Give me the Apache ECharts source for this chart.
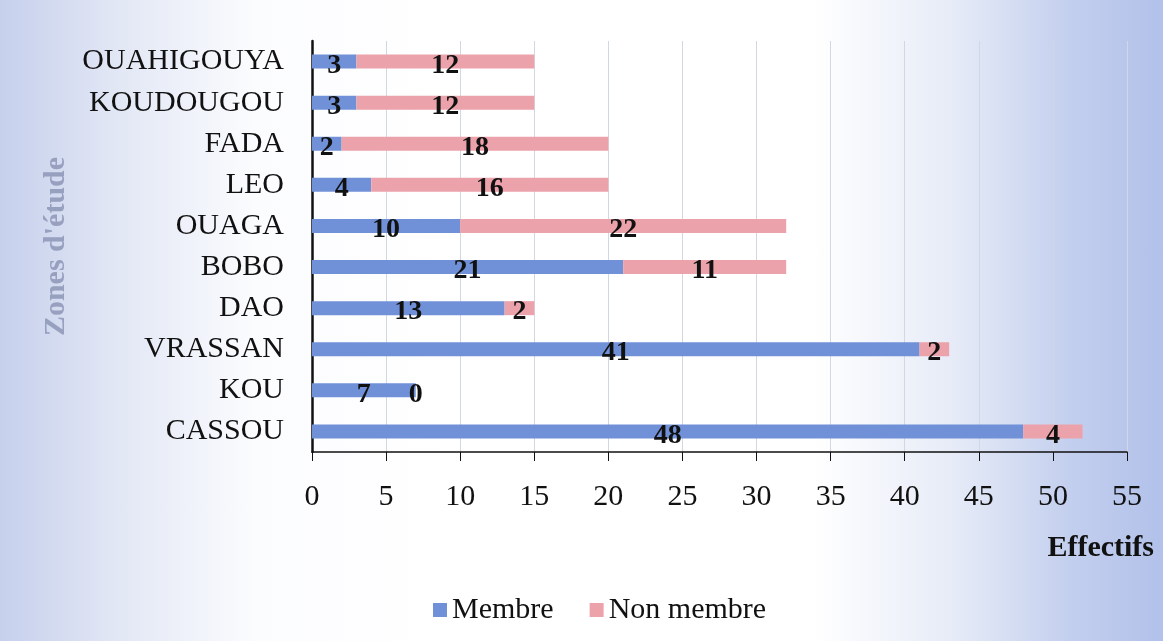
<!DOCTYPE html>
<html><head><meta charset="utf-8">
<script src="https://cdn.jsdelivr.net/npm/echarts@6/dist/echarts.min.js"></script>
<style>
html,body{margin:0;padding:0;}
#c{width:1163px;height:641px;background:linear-gradient(90deg,#c6d0ec 0%,#e2e7f5 10%,#fbfcfe 22%,#ffffff 40%,#ffffff 70%,#e6ebf7 82%,#c3cfee 92%,#b2c1ea 100%);}
</style></head><body>
<div id="c"></div>
<script>
var categories = ['CASSOU','KOU','VRASSAN','DAO','BOBO','OUAGA','LEO','FADA','KOUDOUGOU','OUAHIGOUYA'];
var membre = [48,7,41,13,21,10,4,2,3,3];
var nonMembre = [4,0,2,2,11,22,16,18,12,12];
var xTicks = [0,5,10,15,20,25,30,35,40,45,50,55];

var chart = echarts.init(document.getElementById('c'));
var lbl = {show:true,position:'inside',offset:[0,4],color:'#111',fontFamily:'Liberation Serif',fontWeight:'bold',fontSize:28};
chart.setOption({
  animation:false,
  grid:{left:312,right:36,top:41,bottom:189},
  legend:{left:428,top:590,itemWidth:14,itemHeight:14,itemGap:36,icon:'rect',
    textStyle:{fontFamily:'Liberation Serif',fontSize:30,color:'#111'},
    data:['Membre','Non membre']},
  xAxis:{type:'value',min:xTicks[0],max:xTicks[xTicks.length-1],interval:5,
    name:'Effectifs',nameLocation:'end',nameGap:0,
    nameTextStyle:{fontFamily:'Liberation Serif',fontWeight:'bold',fontSize:30,color:'#111',align:'right',verticalAlign:'top',padding:[81,-27,0,0]},
    axisLine:{show:true,lineStyle:{color:'#111',width:1.5}},
    axisTick:{show:true,length:9,lineStyle:{color:'#111'}},
    axisLabel:{fontFamily:'Liberation Serif',fontSize:30,color:'#111',margin:30},
    splitLine:{show:true,lineStyle:{color:'#d3d7e2'}}},
  yAxis:{type:'category',data:categories,
    name:"Zones d'étude",nameLocation:'middle',nameGap:226,nameRotate:90,
    nameTextStyle:{fontFamily:'Liberation Serif',fontWeight:'bold',fontSize:30,color:'#97a1bf'},
    axisLine:{show:true,lineStyle:{color:'#111',width:2.5}},
    axisTick:{show:false},
    axisLabel:{fontFamily:'Liberation Serif',fontSize:30,color:'#111',margin:28,padding:[8,0,0,0]}},
  series:[
    {name:'Membre',type:'bar',stack:'t',data:membre,barWidth:14,itemStyle:{color:'#7090d8'},label:lbl},
    {name:'Non membre',type:'bar',stack:'t',data:nonMembre,barWidth:14,itemStyle:{color:'#eca2aa'},label:lbl}
  ]
});
</script>
</body></html>
